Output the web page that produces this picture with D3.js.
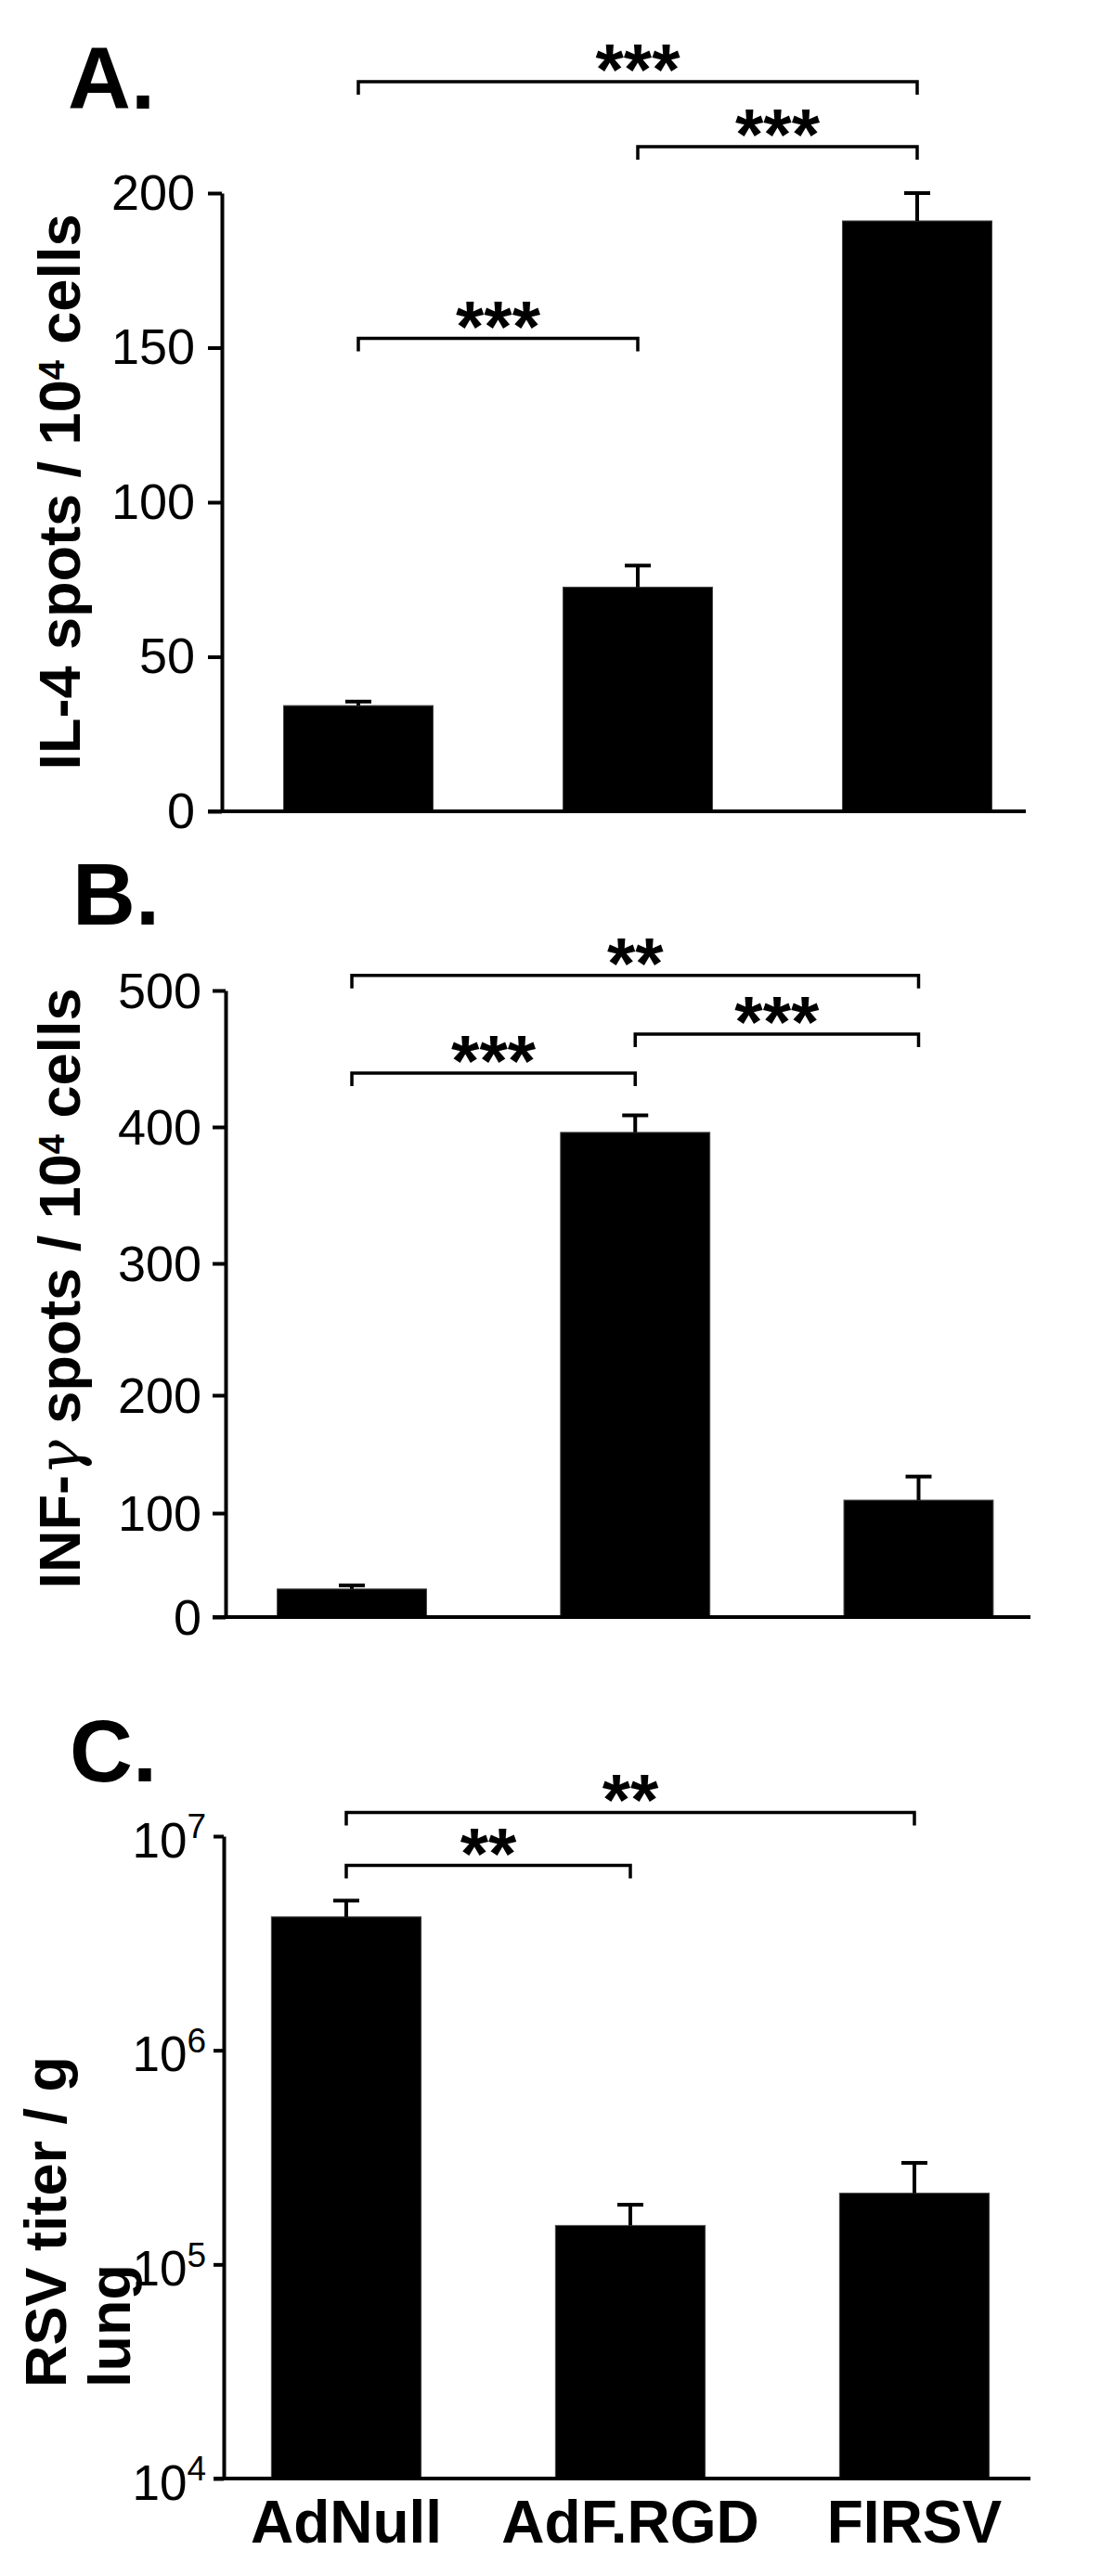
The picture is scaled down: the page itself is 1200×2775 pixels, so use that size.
<!DOCTYPE html>
<html><head><meta charset="utf-8">
<script src="https://cdn.jsdelivr.net/npm/d3@7"></script>
<style>body{margin:0;background:#fff}</style>
</head><body><svg id="c" width="1200" height="2775" xmlns="http://www.w3.org/2000/svg"></svg>
<script>
// ---------- data ----------
const categories = ["AdNull", "AdF.RGD", "FIRSV"];

// Panel A: IL-4 spots / 10^4 cells
const il4Values = [34.2, 72.5, 191.0];
const il4Errors = [1.3, 7.0, 9.0];
const il4Ticks = [0, 50, 100, 150, 200];
const il4Brackets = [
  {from: 0, to: 2, level: 236, label: "***"},
  {from: 1, to: 2, level: 215, label: "***"},
  {from: 0, to: 1, level: 153, label: "***"}
];

// Panel B: INF-gamma spots / 10^4 cells
const ifnValues = [27, 396, 111];
const ifnErrors = [3.5, 12.5, 20];
const ifnTicks = [0, 100, 200, 300, 400, 500];
const ifnBrackets = [
  {from: 0, to: 2, level: 511, label: "**"},
  {from: 1, to: 2, level: 468, label: "***"},
  {from: 0, to: 1, level: 439.5, label: "***"}
];

// Panel C: RSV titer / g lung (log scale)
const rsvValues = [4.2e6, 1.52e5, 2.15e5];
const rsvErrors = [0.8e6, 0.38e5, 0.83e5];
const rsvTicks = [1e4, 1e5, 1e6, 1e7];
const rsvBrackets = [
  {from: 0, to: 2, level: 1.29e7, label: "**"},
  {from: 0, to: 1, level: 7.3e6, label: "**"}
];

// ---------- drawing ----------
const FONT = "'Liberation Sans', Arial, Helvetica, sans-serif";
const svg = d3.select("#c").style("font-family", FONT);

function drawPanel(cfg) {
  const g = svg.append("g");
  const x = d3.scaleBand().domain(categories).range(cfg.xRange)
    .paddingInner(cfg.pad).paddingOuter(cfg.pad / 2);
  const y = cfg.y;
  const base = y.range()[0];
  const cx = i => x(categories[i]) + x.bandwidth() / 2;

  // panel letter
  g.append("text").attr("x", cfg.letterX).attr("y", cfg.letterY)
    .attr("font-size", 94).attr("font-weight", "bold").text(cfg.letter);

  // bars
  g.selectAll("rect.bar").data(cfg.values).join("rect").attr("class", "bar")
    .attr("x", (d, i) => x(categories[i])).attr("width", x.bandwidth())
    .attr("y", d => y(d)).attr("height", d => base - y(d))
    .attr("fill", "#000").attr("stroke", "#444").attr("stroke-width", 1);

  // error bars (upper only)
  const eb = g.selectAll("g.err").data(cfg.values).join("g").attr("class", "err")
    .attr("stroke", "#000").attr("stroke-width", 4);
  eb.append("line").attr("x1", (d, i) => cx(i)).attr("x2", (d, i) => cx(i))
    .attr("y1", d => y(d)).attr("y2", (d, i) => y(d + cfg.errors[i]));
  eb.append("line").attr("x1", (d, i) => cx(i) - 14).attr("x2", (d, i) => cx(i) + 14)
    .attr("y1", (d, i) => y(d + cfg.errors[i])).attr("y2", (d, i) => y(d + cfg.errors[i]));

  // y axis
  const ax = g.append("g").attr("transform", `translate(${cfg.axisX},0)`)
    .call(d3.axisLeft(y).tickValues(cfg.ticks).tickSize(cfg.tickLen).tickSizeOuter(0)
      .tickPadding(cfg.tickPad).tickFormat(cfg.fmt));
  ax.select(".domain").attr("stroke", "#000").attr("stroke-width", 4);
  ax.selectAll(".tick line").attr("stroke", "#000").attr("stroke-width", 4);
  ax.selectAll(".tick text").attr("font-family", FONT).attr("font-size", cfg.tickFont)
    .attr("fill", "#000").attr("dy", cfg.tickDy);
  if (cfg.superscript) {
    ax.selectAll(".tick text").each(function(d) {
      const t = d3.select(this);
      t.text("10");
      t.append("tspan").attr("font-size", 37).attr("dy", "-0.55em").text(Math.round(Math.log10(d)));
    });
  }

  // x axis baseline
  g.append("line").attr("x1", cfg.axisX - cfg.tickLen).attr("x2", cfg.xEnd)
    .attr("y1", base).attr("y2", base).attr("stroke", "#000").attr("stroke-width", 4);

  // y label
  cfg.ylabel(g);

  // significance brackets
  const br = g.selectAll("g.br").data(cfg.brackets).join("g").attr("class", "br");
  br.append("path").attr("fill", "none").attr("stroke", "#000").attr("stroke-width", 3.5)
    .attr("d", d => `M${cx(d.from)},${y(d.level) + 14}V${y(d.level)}H${cx(d.to)}V${y(d.level) + 14}`);
  br.append("text").attr("x", d => (cx(d.from) + cx(d.to)) / 2).attr("y", d => y(d.level) + 14)
    .attr("text-anchor", "middle").attr("font-size", 78).attr("font-weight", "bold")
    .text(d => d.label);

  // category labels
  if (cfg.catLabels) {
    const xa = g.append("g").attr("transform", `translate(0,${base})`)
      .call(d3.axisBottom(x).tickSize(0).tickPadding(24));
    xa.select(".domain").remove();
    xa.selectAll(".tick text").attr("font-family", FONT).attr("font-size", 64)
      .attr("font-weight", "bold").attr("fill", "#000");
  }
}

function spotsLabel(g, tx, ty, prefixParts) {
  const t = g.append("text").attr("transform", `translate(${tx},${ty}) rotate(-90)`)
    .attr("text-anchor", "middle").attr("font-size", 63).attr("font-weight", "bold");
  prefixParts(t);
  t.append("tspan").text(" spots / 10");
  t.append("tspan").attr("font-size", 38).attr("dy", -17).text("4");
  t.append("tspan").attr("dy", 17).text(" cells");
}

// Panel A
drawPanel({
  letter: "A.", letterX: 73, letterY: 117,
  values: il4Values, errors: il4Errors, ticks: il4Ticks, brackets: il4Brackets,
  y: d3.scaleLinear().domain([0, 200]).range([874, 208]),
  xRange: [235.5, 1138.5], pad: 0.465, axisX: 239, xEnd: 1105,
  tickLen: 15, tickPad: 14, tickFont: 54, tickDy: "0.32em", fmt: d3.format("d"),
  ylabel: g => spotsLabel(g, 86, 530, t => t.append("tspan").text("IL-4"))
});

// Panel B (tick spacing follows the original figure's axis)
drawPanel({
  letter: "B.", letterX: 78, letterY: 996,
  values: ifnValues, errors: ifnErrors, ticks: ifnTicks, brackets: ifnBrackets,
  y: d3.scaleLinear().domain(ifnTicks).range([1742, 1630, 1503, 1361, 1214, 1067]),
  xRange: [226.4, 1142.1], pad: 0.473, axisX: 243, xEnd: 1110,
  tickLen: 14, tickPad: 12, tickFont: 54, tickDy: "0.34em", fmt: d3.format("d"),
  ylabel: g => spotsLabel(g, 86, 1388, t => {
    t.append("tspan").text("INF-");
    t.append("tspan").attr("font-family", "'DejaVu Serif', 'Liberation Serif', serif")
      .attr("font-weight", "normal").attr("font-style", "italic").text("γ");
  })
});

// Panel C
drawPanel({
  letter: "C.", letterX: 75, letterY: 1919,
  values: rsvValues, errors: rsvErrors, ticks: rsvTicks, brackets: rsvBrackets,
  y: d3.scaleLog().domain([1e4, 1e7]).range([2670, 1978]),
  xRange: [220, 1138], pad: 0.473, axisX: 241, xEnd: 1110,
  tickLen: 11, tickPad: 8, tickFont: 53, tickDy: "0.42em", fmt: d => "10", superscript: true,
  catLabels: true,
  ylabel: g => {
    g.append("text").attr("transform", "translate(71,2572) rotate(-90)")
      .attr("font-size", 63).attr("font-weight", "bold").text("RSV titer / g");
    g.append("text").attr("transform", "translate(140,2572) rotate(-90)")
      .attr("font-size", 63).attr("font-weight", "bold").text("lung");
  }
});
</script>
</body></html>
